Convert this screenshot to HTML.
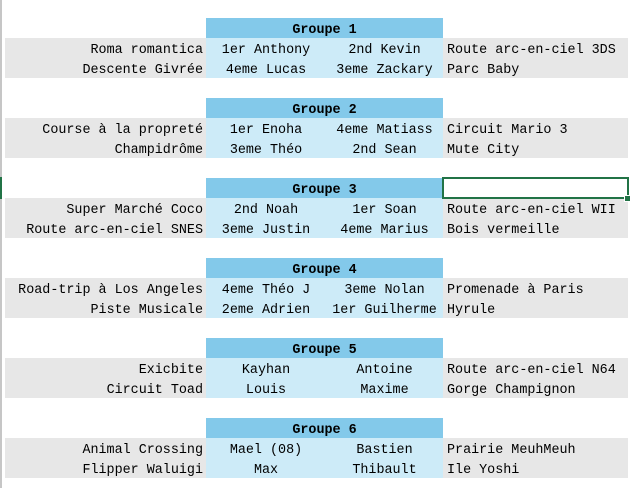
<!DOCTYPE html>
<html><head><meta charset="utf-8"><style>
body{margin:0;width:630px;height:488px;background:#fff;position:relative;overflow:hidden;font-family:"Liberation Mono",monospace;font-size:13.4px;color:#000}
.l{position:absolute;left:0;top:0;width:2px;height:488px;background:#c6c6c6}
.g{position:absolute;left:0;top:177px;width:2px;height:22px;background:#217346}
.blk{position:absolute;left:0;width:630px;height:60px}
.h{position:absolute;left:206px;top:0;width:237px;height:20px;background:#83c9ea;font-weight:bold;text-align:center;line-height:26px;overflow:hidden}
.r{position:absolute;left:5px;width:623px;height:20px;background:#e7e7e7;line-height:26px}
.r span{position:absolute;top:0;white-space:pre;overflow:hidden}
.a{right:425px;text-align:right;height:20px}
.b{left:201px;width:120px;text-align:center;background:#cdebf8;height:20px}
.c{left:321px;width:117px;text-align:center;background:#cdebf8;height:20px}
.d{left:442px;height:20px}
.sel{position:absolute;left:442px;top:177px;width:183px;height:18px;border:2px solid #217346;background:#fff}
.hd{position:absolute;left:624px;top:195px;width:5px;height:5px;background:#217346;border:1px solid #fff}
</style></head><body>
<div class="l"></div><div class="g"></div>

<div class="blk" style="top:18px"><div class="h">Groupe 1</div>
<div class="r" style="top:20px"><span class="a">Roma romantica</span><span class="b">1er Anthony</span><span class="c">2nd Kevin</span><span class="d">Route arc-en-ciel 3DS</span></div>
<div class="r" style="top:40px"><span class="a">Descente Givrée</span><span class="b">4eme Lucas</span><span class="c">3eme Zackary</span><span class="d">Parc Baby</span></div></div>

<div class="blk" style="top:98px"><div class="h">Groupe 2</div>
<div class="r" style="top:20px"><span class="a">Course à la propreté</span><span class="b">1er Enoha</span><span class="c">4eme Matiass</span><span class="d">Circuit Mario 3</span></div>
<div class="r" style="top:40px"><span class="a">Champidrôme</span><span class="b">3eme Théo</span><span class="c">2nd Sean</span><span class="d">Mute City</span></div></div>

<div class="blk" style="top:178px"><div class="h">Groupe 3</div>
<div class="r" style="top:20px"><span class="a">Super Marché Coco</span><span class="b">2nd Noah</span><span class="c">1er Soan</span><span class="d">Route arc-en-ciel WII</span></div>
<div class="r" style="top:40px"><span class="a">Route arc-en-ciel SNES</span><span class="b">3eme Justin</span><span class="c">4eme Marius</span><span class="d">Bois vermeille</span></div></div>

<div class="blk" style="top:258px"><div class="h">Groupe 4</div>
<div class="r" style="top:20px"><span class="a">Road-trip à Los Angeles</span><span class="b">4eme Théo J</span><span class="c">3eme Nolan</span><span class="d">Promenade à Paris</span></div>
<div class="r" style="top:40px"><span class="a">Piste Musicale</span><span class="b">2eme Adrien</span><span class="c">1er Guilherme</span><span class="d">Hyrule</span></div></div>

<div class="blk" style="top:338px"><div class="h">Groupe 5</div>
<div class="r" style="top:20px"><span class="a">Exicbite</span><span class="b">Kayhan</span><span class="c">Antoine</span><span class="d">Route arc-en-ciel N64</span></div>
<div class="r" style="top:40px"><span class="a">Circuit Toad</span><span class="b">Louis</span><span class="c">Maxime</span><span class="d">Gorge Champignon</span></div></div>

<div class="blk" style="top:418px"><div class="h">Groupe 6</div>
<div class="r" style="top:20px"><span class="a">Animal Crossing</span><span class="b">Mael (08)</span><span class="c">Bastien</span><span class="d">Prairie MeuhMeuh</span></div>
<div class="r" style="top:40px"><span class="a">Flipper Waluigi</span><span class="b">Max</span><span class="c">Thibault</span><span class="d">Ile Yoshi</span></div></div>

<div class="sel"></div><div class="hd"></div>
</body></html>
